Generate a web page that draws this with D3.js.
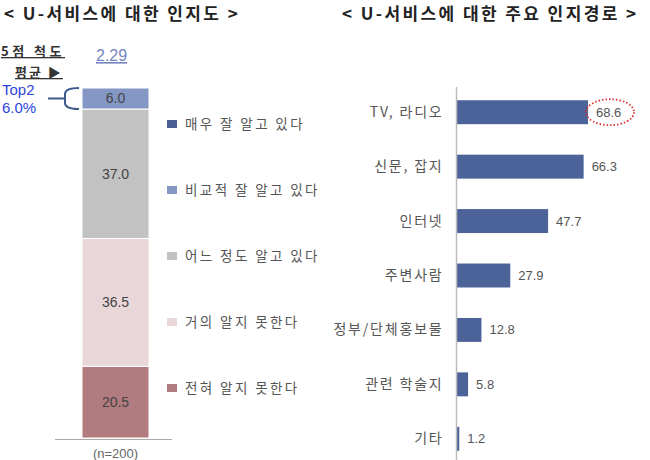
<!DOCTYPE html>
<html>
<head>
<meta charset="utf-8">
<script src="https://cdn.jsdelivr.net/npm/d3@7"></script>
<style>
    body { margin: 0; background: #fff; }
    svg text { font-family: "Noto Sans CJK KR", "Noto Sans", sans-serif; }
    svg text.num { font-family: "Liberation Sans", Arial, sans-serif; }
</style>
</head>
<body>
<svg id="chart" width="650" height="460"></svg>
<script>
// left: awareness levels (top to bottom in legend)
const levelNames = ["매우 잘 알고 있다", "비교적 잘 알고 있다", "어느 정도 알고 있다", "거의 알지 못한다", "전혀 알지 못한다"];
const levelValues = [0, 6.0, 37.0, 36.5, 20.5];
const levelColors = ["#4a5f94", "#8597c4", "#c2c2c2", "#e9d6d9", "#b27b7f"];
const meanScore = "2.29";
const top2Label = ["Top2", "6.0%"];
const sampleLabel = "(n=200)";

// right: main channels
const channelNames = ["TV, 라디오", "신문, 잡지", "인터넷", "주변사람", "정부/단체홍보물", "관련 학술지", "기타"];
const channelValues = [68.6, 66.3, 47.7, 27.9, 12.8, 5.8, 1.2];

const svg = d3.select("#chart");

// titles
svg.append("text").attr("x", 4).attr("y", 20)
    .attr("font-size", 17).attr("font-weight", "bold").attr("fill", "#222")
    .attr("letter-spacing", 2.4)
    .text("< U-서비스에 대한 인지도 >");
svg.append("text").attr("x", 342).attr("y", 20)
    .attr("font-size", 17).attr("font-weight", "bold").attr("fill", "#222")
    .attr("letter-spacing", 2.4)
    .text("< U-서비스에 대한 주요 인지경로 >");

// ---- left stacked bar ----
const y = d3.scaleLinear().domain([0, 100]).range([438, 88]);
const barX = 82, barW = 67;

// stack from bottom: reverse order
const row = {};
levelNames.forEach((n, i) => row[n] = levelValues[i]);
const stack = d3.stack().keys(levelNames.slice().reverse());
const series = stack([row]);

const segs = svg.append("g").selectAll("g")
    .data(series)
    .join("g");

segs.append("rect")
    .attr("x", barX)
    .attr("width", barW)
    .attr("y", d => y(d[0][1]))
    .attr("height", d => y(d[0][0]) - y(d[0][1]))
    .attr("fill", d => levelColors[levelNames.indexOf(d.key)])
    .attr("stroke", "#fff")
    .attr("stroke-width", 1);

segs.filter(d => d[0][1] - d[0][0] > 0)
    .append("text")
    .attr("class", "num")
    .attr("x", barX + barW / 2)
    .attr("y", d => (y(d[0][1]) + y(d[0][0])) / 2)
    .attr("dy", "0.35em")
    .attr("text-anchor", "middle")
    .attr("font-size", 14)
    .attr("fill", "#444")
    .text(d => d3.format(".1f")(d[0][1] - d[0][0]));

// baseline
svg.append("line")
    .attr("x1", 55).attr("x2", 172)
    .attr("y1", 439.5).attr("y2", 439.5)
    .attr("stroke", "#aaa");

svg.append("text").attr("class", "num")
    .attr("x", barX + barW / 2).attr("y", 458)
    .attr("text-anchor", "middle").attr("font-size", 13).attr("fill", "#666")
    .text(sampleLabel);

// 5-point mean header
svg.append("text").attr("x", 1).attr("y", 56)
    .attr("font-size", 13).attr("font-weight", "bold").attr("fill", "#333")
    .attr("letter-spacing", 3.5)
    .attr("text-decoration", "underline")
    .text("5점 척도");
svg.append("text").attr("x", 15).attr("y", 77)
    .attr("font-size", 13).attr("font-weight", "bold").attr("fill", "#333")
    .attr("letter-spacing", 2)
    .attr("text-decoration", "underline")
    .text("평균 ▶");
svg.append("text").attr("class", "num").attr("x", 96).attr("y", 61)
    .attr("font-size", 16).attr("fill", "#7585c0")
    .attr("text-decoration", "underline")
    .text(meanScore);

// Top2 label and bracket
svg.append("text").attr("class", "num").attr("x", 2).attr("y", 95)
    .attr("font-size", 15).attr("fill", "#2f44dc").text(top2Label[0]);
svg.append("text").attr("class", "num").attr("x", 2).attr("y", 113)
    .attr("font-size", 15).attr("fill", "#2f44dc").text(top2Label[1]);

const b0 = y(100), b1 = y(100 - levelValues[0] - levelValues[1]);
const bm = (b0 + b1) / 2;
svg.append("path")
    .attr("d", `M48,${bm} H64 M79,${b0} Q65,${b0} 65,${b0 + 6} V${b1 - 6} Q65,${b1} 79,${b1}`)
    .attr("fill", "none").attr("stroke", "#3d5a8a").attr("stroke-width", 2);

// legend
const legend = svg.append("g").selectAll("g")
    .data(levelNames)
    .join("g")
    .attr("transform", (d, i) => `translate(167,${124 + i * 66})`);
legend.append("rect")
    .attr("x", 0).attr("y", -4).attr("width", 10).attr("height", 8)
    .attr("fill", (d, i) => levelColors[i]);
legend.append("text")
    .attr("x", 18).attr("dy", "0.35em")
    .attr("font-size", 13.5).attr("fill", "#555")
    .attr("letter-spacing", 2.4)
    .text(d => d);

// ---- right horizontal bars ----
const x = d3.scaleLinear().domain([0, 100]).range([457, 648]);
const yb = d3.scaleBand().domain(channelNames).range([85, 466]).paddingInner(0.56).paddingOuter(0.28);

svg.append("g").selectAll("rect")
    .data(channelNames)
    .join("rect")
    .attr("x", x(0))
    .attr("y", d => yb(d))
    .attr("height", yb.bandwidth())
    .attr("width", (d, i) => x(channelValues[i]) - x(0))
    .attr("fill", "#4b6398");

const yAxis = d3.axisLeft(yb).tickSize(0).tickPadding(13);
const ag = svg.append("g").attr("transform", `translate(${x(0) - 0.5},0)`).call(yAxis);
ag.select(".domain").attr("stroke", "#bbb").attr("stroke-width", 1.5)
    .attr("d", `M0,87V460`);
ag.selectAll("text").attr("font-size", 14).attr("fill", "#555")
    .attr("letter-spacing", 1.8)
    .attr("font-family", "\"Noto Sans CJK KR\", sans-serif");

svg.append("g").selectAll("text")
    .data(channelNames)
    .join("text")
    .attr("class", "num")
    .attr("x", (d, i) => x(channelValues[i]) + 8)
    .attr("y", d => yb(d) + yb.bandwidth() / 2)
    .attr("dy", "0.35em")
    .attr("font-size", 13)
    .attr("fill", "#555")
    .text((d, i) => d3.format(".1f")(channelValues[i]));

// dotted highlight around the largest value
const topIdx = channelValues.indexOf(d3.max(channelValues));
svg.append("ellipse")
    .attr("cx", x(channelValues[topIdx]) + 22)
    .attr("cy", yb(channelNames[topIdx]) + yb.bandwidth() / 2)
    .attr("rx", 24).attr("ry", 13)
    .attr("fill", "none").attr("stroke", "#e03030")
    .attr("stroke-width", 1.8).attr("stroke-dasharray", "1.5,2");
</script>
</body>
</html>
